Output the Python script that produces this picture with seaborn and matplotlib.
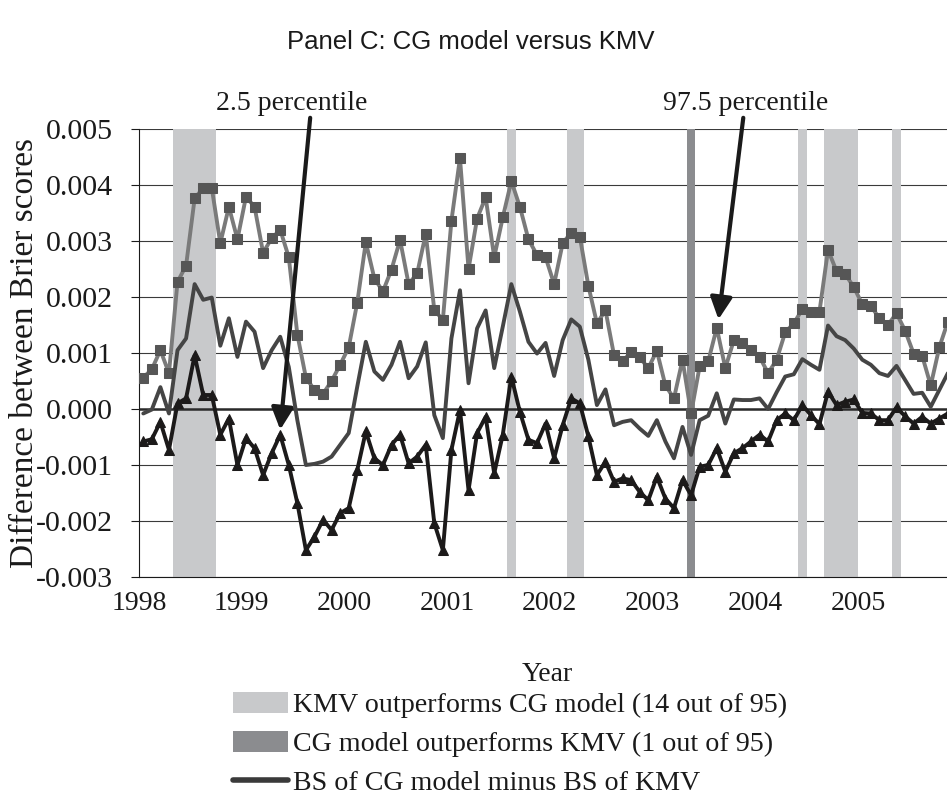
import matplotlib
matplotlib.use("Agg")
import matplotlib.pyplot as plt
import seaborn as sns
import pandas as pd
from matplotlib.patches import Patch
from matplotlib.lines import Line2D

# Monthly values Jan 1998 - Nov 2005 (95 months), in units of 0.001
SCALE = 0.001

pct_975 = [0.56, 0.71, 1.05, 0.64, 2.27, 2.56, 3.76, 3.95, 3.95, 2.96,
           3.61, 3.03, 3.79, 3.61, 2.79, 3.05, 3.20, 2.71, 1.33, 0.56,
           0.34, 0.27, 0.50, 0.79, 1.10, 1.90, 2.98, 2.33, 2.10, 2.49,
           3.02, 2.23, 2.42, 3.13, 1.77, 1.59, 3.36, 4.48, 2.50, 3.40,
           3.78, 2.71, 3.42, 4.07, 3.61, 3.03, 2.75, 2.71, 2.23, 2.96,
           3.15, 3.08, 2.20, 1.53, 1.76, 0.96, 0.85, 1.02, 0.92, 0.73,
           1.04, 0.42, 0.19, 0.88, -0.08, 0.76, 0.85, 1.45, 0.73, 1.23,
           1.18, 1.05, 0.93, 0.64, 0.88, 1.37, 1.53, 1.78, 1.74, 1.74,
           2.84, 2.46, 2.41, 2.18, 1.87, 1.84, 1.62, 1.50, 1.71, 1.40,
           0.99, 0.95, 0.42, 1.10, 1.56]

bs_diff = [-0.08, -0.01, 0.39, -0.08, 1.05, 1.26, 2.23, 1.95, 1.99, 1.13,
           1.62, 0.93, 1.56, 1.38, 0.73, 1.05, 1.29, 0.75, -0.20, -1.00,
           -0.98, -0.94, -0.85, -0.64, -0.43, 0.40, 1.20, 0.67, 0.52, 0.79,
           1.20, 0.55, 0.76, 1.19, -0.11, -0.52, 1.26, 2.12, 0.46, 1.44,
           1.76, 0.73, 1.47, 2.23, 1.74, 1.20, 0.99, 1.18, 0.59, 1.23,
           1.60, 1.47, 0.88, 0.07, 0.35, -0.29, -0.23, -0.20, -0.35, -0.48,
           -0.20, -0.58, -0.88, -0.32, -0.82, -0.20, -0.12, 0.28, -0.26, 0.17,
           0.16, 0.16, 0.19, 0.00, 0.30, 0.58, 0.62, 0.89, 0.79, 0.70,
           1.49, 1.30, 1.23, 1.08, 0.88, 0.79, 0.64, 0.59, 0.77, 0.52,
           0.27, 0.29, 0.04, 0.34, 0.64]

pct_025 = [-0.58, -0.54, -0.23, -0.73, 0.10, 0.19, 0.96, 0.25, 0.25, -0.46,
           -0.17, -1.00, -0.52, -0.70, -1.18, -0.79, -0.46, -1.00, -1.68, -2.52,
           -2.28, -1.98, -2.16, -1.86, -1.77, -1.09, -0.40, -0.88, -1.00, -0.64,
           -0.46, -0.97, -0.85, -0.64, -2.04, -2.52, -0.73, -0.02, -1.45, -0.43,
           -0.14, -1.15, -0.46, 0.58, -0.05, -0.55, -0.61, -0.26, -0.88, -0.29,
           0.19, 0.10, -0.49, -1.18, -0.94, -1.30, -1.24, -1.27, -1.48, -1.63,
           -1.21, -1.60, -1.77, -1.27, -1.54, -1.03, -1.00, -0.70, -1.12, -0.79,
           -0.70, -0.58, -0.46, -0.58, -0.20, -0.08, -0.20, 0.07, -0.11, -0.27,
           0.31, 0.07, 0.13, 0.17, -0.07, -0.08, -0.20, -0.20, 0.03, -0.13,
           -0.26, -0.14, -0.26, -0.17, -0.08]

# month indices (0 = Jan 1998) where one model significantly wins
kmv_better_months = [4, 5, 6, 7, 8, 43, 50, 51, 77, 80, 81, 82, 83, 88]
cg_better_months = [64]

year_labels = ['1998', '1999', '2000', '2001', '2002', '2003', '2004', '2005']
y_ticks = [-0.003, -0.002, -0.001, 0.0, 0.001, 0.002, 0.003, 0.004, 0.005]

df = pd.DataFrame({
    'month': range(len(bs_diff)),
    'p975': [v * SCALE for v in pct_975],
    'diff': [v * SCALE for v in bs_diff],
    'p025': [v * SCALE for v in pct_025],
})


def month_runs(months):
    runs = []
    for m in sorted(months):
        if runs and m == runs[-1][1] + 1:
            runs[-1][1] = m
        else:
            runs.append([m, m])
    return runs


sns.set_style("white")
plt.rcParams['font.family'] = ['Liberation Serif', 'DejaVu Serif']

LIGHT = '#c8c9cb'
DARK = '#8b8c8f'
INK = '#1a1a1a'

fig = plt.figure(figsize=(9.47, 7.99), dpi=100)
ax = fig.add_axes([139 / 947, 1 - 577 / 799, 1 - 139 / 947, 448 / 799])

for a, b in month_runs(kmv_better_months):
    ax.axvspan(a - 0.5, b + 0.5, color=LIGHT, lw=0, zorder=1)
for a, b in month_runs(cg_better_months):
    ax.axvspan(a - 0.5, b + 0.5, color=DARK, lw=0, zorder=1)

ax.axhline(0, color='#2a2a2a', lw=1.8, zorder=2)

sns.lineplot(data=df, x='month', y='p975', ax=ax, color='#7a7a7a', lw=2.8,
             marker='s', markersize=7, markerfacecolor='#565656',
             markeredgecolor='#565656', zorder=3)
sns.lineplot(data=df, x='month', y='diff', ax=ax, color='#454545', lw=2.8,
             zorder=4)
sns.lineplot(data=df, x='month', y='p025', ax=ax, color='#1c1a1a', lw=2.8,
             marker='^', markersize=7.5, markerfacecolor='#1c1a1a',
             markeredgecolor='#1c1a1a', zorder=5)

ax.set_xlim(-0.5, 93.9)
ax.set_ylim(-0.003, 0.005)
ax.set_xticks([12 * k - 0.5 for k in range(len(year_labels))])
ax.set_xticklabels(year_labels)
ax.set_yticks(y_ticks)
ax.set_yticklabels([f'{v:.3f}' for v in y_ticks])
ax.set_axisbelow(True)
ax.yaxis.grid(True, color='#3a3a3a', lw=0.8)
ax.tick_params(axis='x', length=0, pad=10, labelsize=20, colors=INK)
ax.tick_params(axis='y', length=6, width=0.8, pad=13, labelsize=21.5,
               colors=INK, left=True, direction='out')
for side in ['top', 'right']:
    ax.spines[side].set_visible(False)
ax.spines['left'].set_color(INK)
ax.spines['bottom'].set_color(INK)

ax.set_xlabel('Year', fontsize=20, color=INK)
ax.xaxis.set_label_coords(0.505, -0.19)
ax.set_ylabel('Difference between Brier scores', fontsize=24, color=INK)
ax.yaxis.set_label_coords(-0.123, 0.5)

# percentile annotations
arrow = dict(arrowstyle='-|>,head_length=1.1,head_width=0.55',
             mutation_scale=12, lw=3, color=INK, shrinkA=0, shrinkB=0)
ax.text(17.3, 0.00546, '2.5 percentile', ha='center', va='center',
        fontsize=20, color=INK)
ax.annotate('', xy=(16.0, -0.00037), xytext=(19.5, 0.0052),
            arrowprops=arrow, annotation_clip=False, zorder=6)
ax.text(70.4, 0.00546, '97.5 percentile', ha='center', va='center',
        fontsize=20, color=INK)
ax.annotate('', xy=(67.2, 0.00160), xytext=(70.1, 0.0052),
            arrowprops=arrow, annotation_clip=False, zorder=6)

fig.text(0.497, 1 - 42 / 799, 'Panel C: CG model versus KMV', ha='center',
         va='center', fontsize=18.5, family=['Liberation Sans', 'DejaVu Sans'],
         color=INK)

handles = [Patch(facecolor=LIGHT, edgecolor='none'),
           Patch(facecolor=DARK, edgecolor='none'),
           Line2D([], [], color='#3a3a3a', lw=4, solid_capstyle='round')]
labels = ['KMV outperforms CG model (14 out of 95)',
          'CG model outperforms KMV (1 out of 95)',
          'BS of CG model minus BS of KMV']
fig.legend(handles, labels, loc='upper left',
           bbox_to_anchor=(233 / 947, 1 - 692 / 799), frameon=False,
           fontsize=20.2, handlelength=1.95, handleheight=0.75,
           handletextpad=0.2, labelspacing=0.46, borderpad=0,
           borderaxespad=0, labelcolor=INK)

fig.savefig('out.png', dpi=100)
